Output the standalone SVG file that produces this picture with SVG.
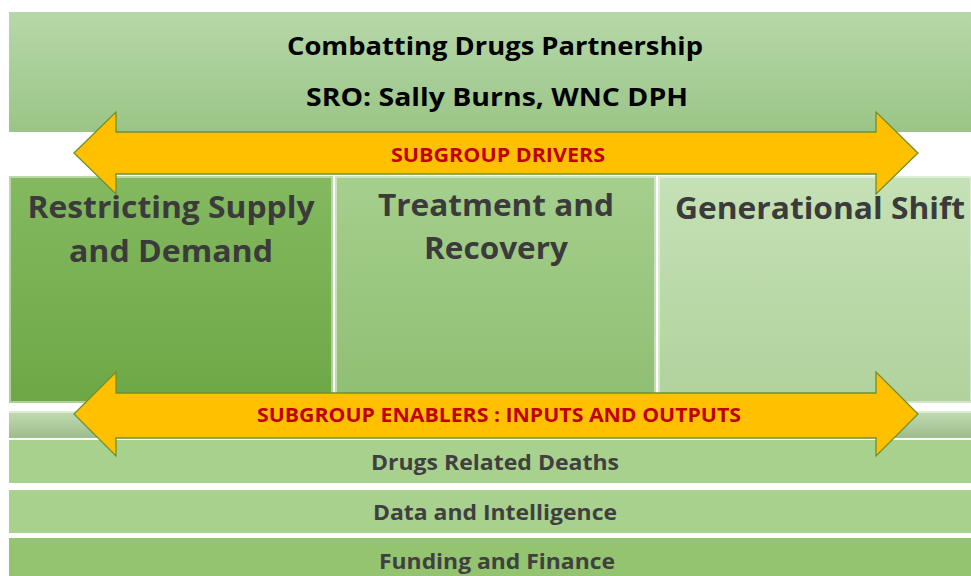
<svg xmlns="http://www.w3.org/2000/svg" width="971" height="576" viewBox="0 0 971 576">
<defs>
<linearGradient id="gTop" x1="0" y1="0" x2="0" y2="1"><stop offset="0" stop-color="#b6d8a8"/><stop offset="1" stop-color="#9bc587"/></linearGradient>
<linearGradient id="gC1" x1="0" y1="0" x2="0" y2="1"><stop offset="0" stop-color="#84b960"/><stop offset="1" stop-color="#6da845"/></linearGradient>
<linearGradient id="gC2" x1="0" y1="0" x2="0" y2="1"><stop offset="0" stop-color="#a5cf8d"/><stop offset="1" stop-color="#8fbf72"/></linearGradient>
<linearGradient id="gC3" x1="0" y1="0" x2="0" y2="1"><stop offset="0" stop-color="#c5e1b6"/><stop offset="1" stop-color="#b0d29c"/></linearGradient>
<linearGradient id="gEn" x1="0" y1="0" x2="0" y2="1"><stop offset="0" stop-color="#c2dcb3"/><stop offset="1" stop-color="#9dbd8b"/></linearGradient>
</defs>
<style>
.t{font-family:"Open Sans","Noto Sans","Liberation Sans",sans-serif;font-weight:bold;text-anchor:middle}
.title{font-size:25px;fill:#000}
.col{font-size:30px;fill:#3b3b3b}
.strip{font-size:21px;fill:#404040}
.red{font-size:19px;fill:#c00000}
.arrow{fill:#ffc000;stroke:#6f8f2e;stroke-width:1.3}
.bev{fill:none;stroke:#ffffff;stroke-opacity:0.45;stroke-width:2}
</style>
<g id="partnership">
<rect x="9" y="12" width="962" height="120" fill="url(#gTop)"/>
<text class="t title" x="495" y="55" textLength="416" lengthAdjust="spacingAndGlyphs">Combatting Drugs Partnership</text>
<text class="t title" x="497" y="106" textLength="382" lengthAdjust="spacingAndGlyphs">SRO: Sally Burns, WNC DPH</text>
</g>
<g id="enablers-band">
<rect x="9" y="411" width="962" height="27" fill="url(#gEn)"/>
<line x1="9" y1="412" x2="971" y2="412" stroke="#e6f2de" stroke-width="1.5"/>
</g>
<g id="restricting">
<rect x="9" y="176" width="324" height="227" fill="url(#gC1)"/>
<rect x="10" y="177" width="322" height="225" class="bev"/>
<text class="t col" x="171" y="218" textLength="287" lengthAdjust="spacingAndGlyphs">Restricting Supply</text>
<text class="t col" x="171" y="262" textLength="204" lengthAdjust="spacingAndGlyphs">and Demand</text>
</g>
<g id="treatment">
<rect x="335" y="176" width="321" height="227" fill="url(#gC2)"/>
<rect x="336" y="177" width="319" height="225" class="bev"/>
<text class="t col" x="496" y="216" textLength="236" lengthAdjust="spacingAndGlyphs">Treatment and</text>
<text class="t col" x="496" y="259" textLength="144" lengthAdjust="spacingAndGlyphs">Recovery</text>
</g>
<g id="generational">
<rect x="658" y="176" width="313" height="227" fill="url(#gC3)"/>
<rect x="659" y="177" width="312" height="225" class="bev"/>
<text class="t col" x="820" y="219" textLength="290" lengthAdjust="spacingAndGlyphs">Generational Shift</text>
</g>
<g id="drd">
<rect x="9" y="440" width="962" height="43" fill="#a9d18e"/>
<text class="t strip" x="495" y="470" textLength="248" lengthAdjust="spacingAndGlyphs">Drugs Related Deaths</text>
</g>
<g id="data">
<rect x="9" y="490" width="962" height="43" fill="#a9d18e"/>
<text class="t strip" x="495" y="520" textLength="244" lengthAdjust="spacingAndGlyphs">Data and Intelligence</text>
</g>
<g id="funding">
<rect x="9" y="538" width="962" height="38" fill="#95c470"/>
<text class="t strip" x="497" y="569" textLength="236" lengthAdjust="spacingAndGlyphs">Funding and Finance</text>
</g>
<g id="connectors">
<g id="drivers-arrow">
<path class="arrow" d="M74,153 L116,112 L116,132 L876,132 L876,112 L918,153 L876,194 L876,174 L116,174 L116,194 Z"/>
<text class="t red" x="498" y="162" textLength="214" lengthAdjust="spacingAndGlyphs">SUBGROUP DRIVERS</text>
</g>
<g id="enablers-arrow">
<path class="arrow" d="M74,414 L116,372 L116,393 L876,393 L876,372 L918,414 L876,456 L876,438 L116,438 L116,456 Z"/>
<text class="t red" x="499" y="422" textLength="484" lengthAdjust="spacingAndGlyphs">SUBGROUP ENABLERS : INPUTS AND OUTPUTS</text>
</g>
</g>
</svg>
